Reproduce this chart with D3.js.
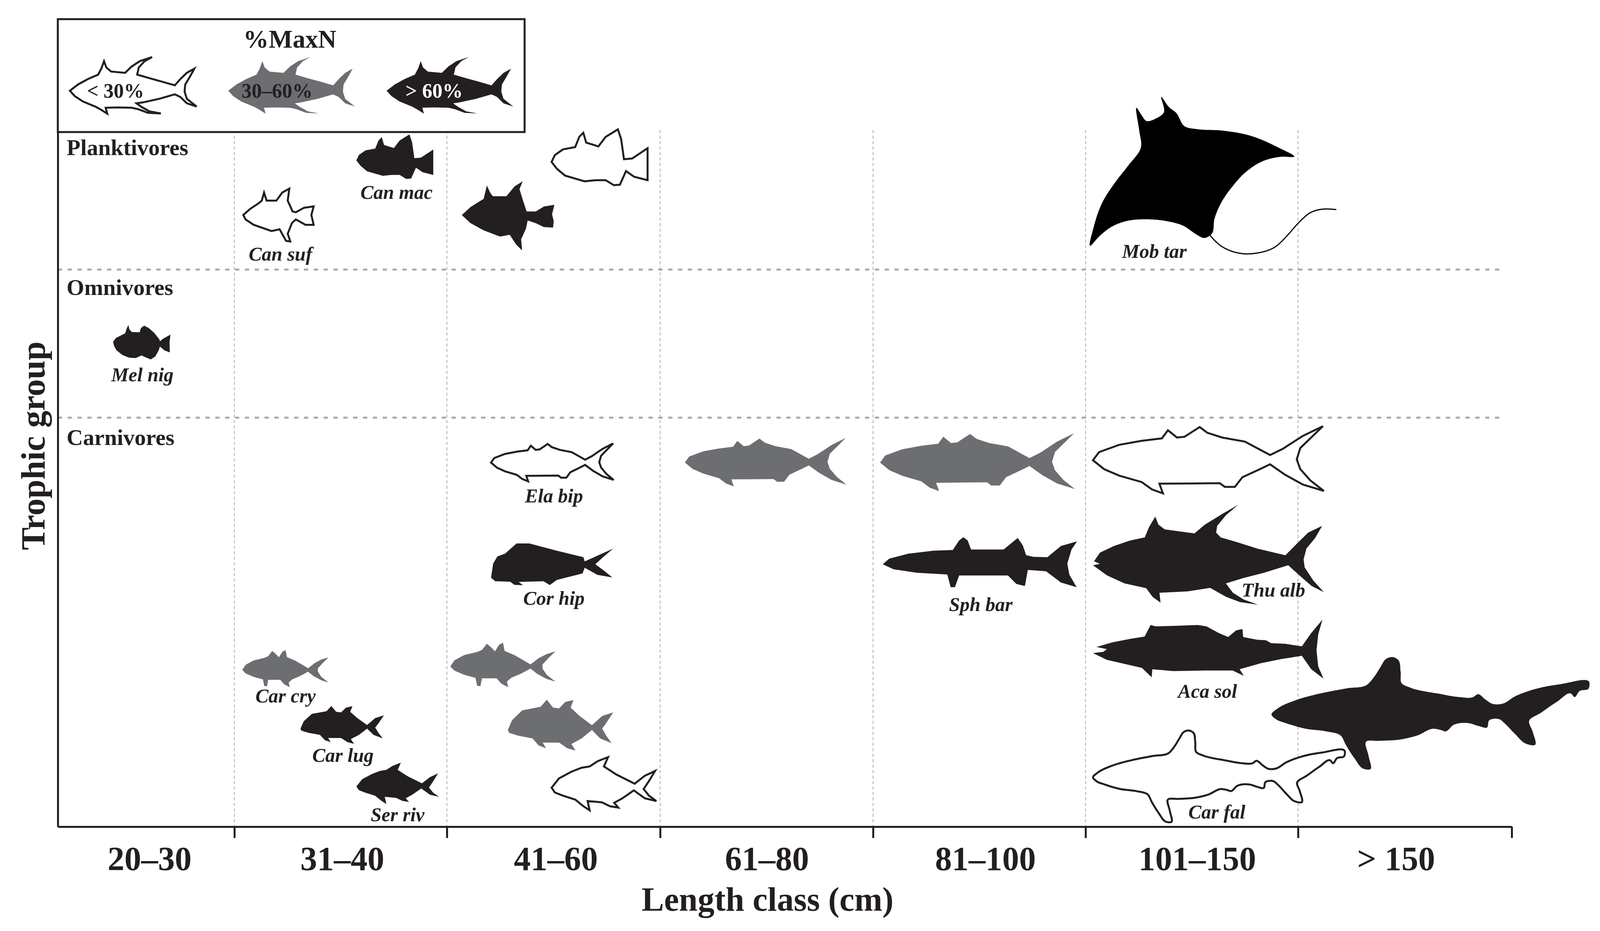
<!DOCTYPE html>
<html lang="en">

<head>
    <meta charset="UTF-8">
    <title>Trophic group by length class</title>
    <style>
        body { margin: 0; background: #fff; }
        text { font-family: "Liberation Serif", serif; fill: #231f20; }
    </style>
</head>

<body>
    <div id="my_dataviz"></div>

    <script src="https://d3js.org/d3.v7.min.js"></script>
    <script>

        // length classes along the x axis
        const lengthClasses = ["20–30", "31–40", "41–60", "61–80", "81–100", "101–150", "> 150"];
        const classEdges = [0, 1, 2, 3, 4, 5, 6, 7];
        const classLabelAt = [0.519, 1.507, 2.510, 3.501, 4.528, 5.525, 6.458];

        // trophic groups, read on a 0-100 position scale
        const trophicGroups = ["Planktivores", "Omnivores", "Carnivores"];
        const trophicLabelAt = [96.68, 76.55, 54.95];
        const trophicDividers = [80.2, 58.89];

        // %MaxN classes
        const maxNLabels = ["< 30%", "30–60%", "> 60%"];

        // one entry per fish: extent along length class and along the trophic position
        const fishNames = ["Can suf", "Can mac", "", "", "Mob tar", "Mel nig", "Ela bip", "", "", "", "Cor hip", "Sph bar", "Thu alb", "Aca sol", "", "Car fal", "Car cry", "Car lug", "Ser riv", "", "", ""];
        const fishShapes = ["triggerSmall", "triggerRound", "triggerSharp", "triggerRound", "manta", "melNig", "amberjack", "amberjack", "amberjack", "amberjack", "dorado", "barracuda", "albacore", "wahoo", "shark", "shark", "jack", "jackDeep", "pompano", "jack", "jackDeep", "pompano"];
        const fishMaxN = [0, 2, 2, 0, 2, 2, 0, 1, 1, 0, 2, 2, 2, 2, 2, 0, 1, 2, 2, 1, 1, 0];
        const lengthFrom = [1.042, 1.574, 2.070, 2.491, 5.022, 0.313, 2.207, 3.116, 4.033, 5.035, 2.207, 4.046, 5.035, 5.035, 5.875, 5.035, 1.037, 1.311, 1.574, 2.016, 2.286, 2.491];
        const lengthTo = [1.373, 1.936, 2.504, 2.941, 6.179, 0.638, 2.782, 3.875, 4.950, 6.121, 2.780, 4.960, 6.121, 6.119, 7.364, 6.219, 1.443, 1.704, 1.963, 2.509, 2.780, 2.982];
        const trophicLow = [84.25, 93.25, 82.96, 92.35, 82.56, 67.27, 49.72, 48.99, 48.31, 47.98, 34.76, 34.48, 31.95, 21.32, 8.27, 0.67, 20.08, 11.92, 3.26, 20.08, 10.97, 2.36];
        const trophicHigh = [91.85, 99.66, 92.91, 100.39, 105.06, 72.22, 55.17, 55.96, 56.64, 57.65, 40.78, 41.68, 46.34, 29.81, 24.41, 13.84, 25.42, 17.38, 9.22, 26.49, 18.28, 10.01];
        const nameAtLength = [1.217, 1.763, 0, 0, 5.324, 0.479, 2.502, 0, 0, 0, 2.502, 4.507, 5.884, 5.574, 0, 5.618, 1.241, 1.511, 1.768, 0, 0, 0];
        const nameAtTrophic = [81.50, 90.38, 0, 0, 81.89, 64.12, 46.68, 0, 0, 0, 31.95, 31.05, 33.13, 18.56, 0, 1.18, 17.89, 9.34, 0.79, 0, 0, 0];

        // silhouette outlines, each in its own drawing units (stretched to the fish extent below)
        const silhouettes = {
            tunaKey: [[585,475],[610,440],[640,410],[672,385],[682,350],[690,310],[697,345],[712,368],[755,375],[775,340],[800,310],[838,287],[815,310],[797,345],[792,385],[830,405],[870,425],[908,445],[925,410],[945,375],[968,352],[955,395],[940,440],[938,480],[945,520],[975,563],[945,545],[925,510],[908,495],[860,520],[810,540],[790,545],[805,565],[830,590],[865,602],[825,598],[795,578],[775,570],[730,568],[695,570],[700,603],[680,580],[665,565],[625,535],[600,505]],
            albacore: [[113,197],[130,165],[170,140],[215,120],[258,108],[270,70],[288,30],[297,60],[315,78],[400,93],[430,60],[480,20],[525,-14],[490,25],[465,65],[462,90],[475,108],[520,125],[580,150],[660,175],[690,135],[725,90],[765,65],[745,110],[720,150],[712,190],[715,220],[740,270],[770,313],[735,290],[700,250],[668,212],[600,240],[540,260],[490,280],[510,315],[540,340],[582,360],[530,350],[490,330],[445,297],[380,310],[300,315],[303,352],[280,330],[262,298],[200,280],[150,250],[110,212],[130,207]],
            wahoo: [[120,517],[165,500],[215,487],[258,478],[275,435],[290,440],[350,438],[410,435],[435,440],[470,465],[497,480],[520,455],[538,450],[540,480],[580,490],[605,492],[620,503],[660,505],[708,515],[735,465],[767,415],[755,470],[750,530],[755,590],[770,635],[735,600],[708,550],[650,562],[590,578],[530,600],[542,625],[510,605],[430,605],[340,607],[280,600],[278,630],[250,595],[200,580],[150,565],[110,540],[140,535],[150,525]],
            shark: [[622,768],[640,745],[690,715],[760,690],[840,670],[895,658],[915,630],[935,590],[950,562],[970,555],[985,565],[992,610],[995,652],[1020,668],[1100,690],[1160,703],[1200,703],[1213,692],[1235,712],[1255,728],[1285,727],[1320,700],[1380,672],[1450,655],[1533,650],[1530,672],[1505,680],[1490,703],[1480,690],[1440,720],[1395,760],[1360,792],[1370,830],[1377,880],[1350,875],[1320,840],[1290,800],[1275,785],[1245,790],[1240,815],[1215,810],[1190,800],[1145,805],[1120,830],[1108,825],[1085,820],[1040,845],[990,860],[930,865],[893,868],[900,920],[905,970],[885,968],[860,930],[835,880],[820,845],[780,830],[720,820],[665,800],[635,785]],
            manta: [[105,608],[115,540],[140,450],[175,380],[215,315],[250,250],[245,190],[238,108],[252,135],[265,155],[295,145],[315,125],[308,68],[330,105],[350,125],[375,175],[410,185],[480,190],[560,208],[640,250],[688,285],[650,285],[600,300],[550,340],[510,395],[480,450],[460,510],[452,565],[430,580],[412,570],[370,535],[320,518],[270,512],[210,518],[165,540],[130,575]],
            jack: [[787,295],[800,265],[830,240],[870,225],[885,215],[900,185],[915,205],[925,222],[938,190],[950,180],[955,220],[985,240],[1010,262],[1035,285],[1060,255],[1085,235],[1112,222],[1090,255],[1072,285],[1072,305],[1085,335],[1112,368],[1085,355],[1055,330],[1035,305],[1005,330],[975,350],[962,368],[966,395],[945,378],[930,352],[885,352],[880,390],[870,388],[865,350],[830,335],[800,315]],
            jackDeep: [[325,595],[335,560],[360,525],[405,512],[420,487],[435,515],[450,518],[465,495],[485,488],[478,515],[500,545],[530,578],[555,545],[582,532],[565,570],[555,590],[565,615],[578,642],[550,625],[530,595],[505,625],[480,645],[490,668],[470,660],[450,640],[410,640],[418,660],[400,650],[385,625],[350,615],[328,605]],
            pompano: [[497,875],[515,840],[545,815],[570,800],[590,795],[610,775],[635,760],[625,795],[655,825],[700,860],[725,830],[750,812],[735,850],[722,880],[735,905],[753,925],[725,915],[698,885],[670,915],[650,932],[660,950],[640,945],[620,930],[585,925],[590,960],[575,945],[555,920],[525,905],[505,893]],
            amberjack: [[1063,375],[1075,325],[1115,280],[1160,255],[1200,240],[1212,190],[1230,235],[1245,230],[1275,170],[1290,205],[1320,235],[1365,260],[1395,310],[1415,343],[1440,305],[1480,225],[1520,165],[1495,240],[1475,300],[1468,370],[1475,430],[1495,500],[1522,565],[1480,525],[1445,465],[1415,400],[1395,430],[1360,480],[1345,540],[1325,540],[1315,517],[1195,520],[1202,580],[1180,555],[1160,510],[1115,470],[1085,430]],
            dorado: [[145,1200],[150,1100],[160,1050],[178,1030],[205,958],[235,958],[300,1010],[362,1055],[365,1085],[432,995],[410,1050],[390,1105],[410,1150],[430,1198],[395,1180],[365,1130],[360,1170],[300,1215],[283,1252],[268,1225],[210,1230],[220,1253],[200,1250],[190,1228],[155,1225]],
            barracuda: [[1070,1105],[1085,1065],[1130,1030],[1190,1008],[1235,1003],[1250,935],[1260,912],[1270,935],[1278,1000],[1355,1000],[1375,950],[1388,918],[1400,970],[1408,1040],[1425,1052],[1458,1055],[1490,975],[1528,942],[1515,1000],[1505,1100],[1510,1180],[1527,1268],[1490,1235],[1455,1155],[1412,1145],[1405,1260],[1385,1245],[1365,1185],[1250,1185],[1240,1268],[1230,1268],[1222,1178],[1150,1165],[1095,1140]],
            triggerRound: [[497,240],[505,210],[525,185],[555,175],[565,130],[575,112],[582,155],[612,172],[630,130],[660,97],[668,140],[675,228],[695,225],[733,180],[733,320],[700,305],[680,280],[665,340],[650,342],[630,320],[605,320],[578,325],[530,300],[510,270]],
            triggerSharp: [[823,545],[850,500],[890,455],[900,380],[910,420],[918,440],[960,440],[985,385],[1010,357],[1000,400],[1010,460],[1022,525],[1050,525],[1075,497],[1107,488],[1100,540],[1105,580],[1103,615],[1075,612],[1050,590],[1025,575],[1020,620],[1005,680],[1008,742],[990,710],[970,655],[940,665],[890,630],[850,590]],
            triggerSmall: [[148,545],[170,510],[195,480],[205,465],[212,420],[220,465],[250,465],[268,420],[290,398],[285,465],[300,525],[310,530],[335,505],[365,497],[358,545],[365,600],[340,600],[310,570],[298,590],[285,650],[293,693],[280,690],[260,625],[235,635],[180,600],[155,570]],
            melNig: [[448,525],[470,495],[510,475],[540,460],[553,420],[565,397],[572,430],[590,450],[650,452],[660,420],[685,402],[720,420],[760,455],[800,505],[805,520],[830,500],[885,470],[878,530],[880,605],[840,590],[805,560],[795,590],[770,635],[735,658],[690,640],[665,628],[620,648],[570,645],[520,625],[475,590],[455,555]]
        };
        const mantaTail = [[447,570],[480,610],[530,635],[580,635],[630,615],[665,575],[700,525],[735,487],[770,475],[808,477]];
        // only the smooth bodied ones get a curve, the rest keep their sharp fins
        const smoothShapes = ["manta", "shark"];

        const width = 4106, height = 2383;
        const ink = "#231f20";

        var svg = d3.select("#my_dataviz")
          .append("svg")
            .attr("width", width)
            .attr("height", height)
            .style("display", "block");

        // first class is narrower than the others, so the x scale is piecewise
        var x = d3.scaleLinear()
          .domain(classEdges)
          .range([148, 600, 1144, 1690, 2235, 2779, 3323, 3870]);

        var y = d3.scaleLinear()
          .domain([0, 100])
          .range([2116, 338]);

        var maxNFill = d3.scaleOrdinal().domain([0, 1, 2]).range(["#fff", "#6d6e71", ink]);

        // grid
        svg.append("g").selectAll("line")
          .data(classEdges.slice(1, 7))
          .enter().append("line")
            .attr("x1", d => x(d)).attr("x2", d => x(d))
            .attr("y1", 333).attr("y2", y(0))
            .attr("stroke", "#bdbdbd")
            .attr("stroke-width", 2.5)
            .attr("stroke-dasharray", "8 6");

        svg.append("g").selectAll("line")
          .data(trophicDividers)
          .enter().append("line")
            .attr("x1", x(0)).attr("x2", x(6.954))
            .attr("y1", d => y(d)).attr("y2", d => y(d))
            .attr("stroke", "#a9a9a9")
            .attr("stroke-width", 5)
            .attr("stroke-dasharray", "11 14.2");

        // draw one silhouette into a pixel box
        function drawFish(parent, shapeName, box, maxN) {
            var outline = silhouettes[shapeName];
            var all = shapeName === "manta" ? outline.concat(mantaTail) : outline;
            var sx = d3.scaleLinear().domain(d3.extent(all, d => d[0])).range([box.x0, box.x1]);
            var sy = d3.scaleLinear().domain(d3.extent(all, d => d[1])).range([box.y0, box.y1]);
            var line = d3.line().x(d => sx(d[0])).y(d => sy(d[1]));
            var curve = smoothShapes.includes(shapeName) ? d3.curveCatmullRomClosed.alpha(0.9) : d3.curveLinearClosed;

            parent.append("path")
              .attr("d", line.curve(curve)(outline))
              .attr("fill", shapeName === "manta" ? "#000" : maxNFill(maxN))
              .attr("stroke", maxN === 0 ? ink : "none")
              .attr("stroke-width", 5)
              .attr("stroke-linejoin", "miter");

            if (shapeName === "manta") {
                parent.append("path")
                  .attr("d", line.curve(d3.curveCatmullRom)(mantaTail))
                  .attr("fill", "none")
                  .attr("stroke", "#000")
                  .attr("stroke-width", 3);
            }
        }

        var fishLayer = svg.append("g");
        fishNames.forEach(function (name, i) {
            drawFish(fishLayer, fishShapes[i], {
                x0: x(lengthFrom[i]), x1: x(lengthTo[i]),
                y0: y(trophicHigh[i]), y1: y(trophicLow[i])
            }, fishMaxN[i]);
        });

        // species names
        svg.append("g").selectAll("text")
          .data(fishNames.map((name, i) => ({ name: name, at: nameAtLength[i], tr: nameAtTrophic[i] })).filter(d => d.name))
          .enter().append("text")
            .attr("x", d => x(d.at))
            .attr("y", d => y(d.tr))
            .attr("text-anchor", "middle")
            .attr("font-size", 50)
            .attr("font-weight", "bold")
            .attr("font-style", "italic")
            .text(d => d.name);

        // trophic group names
        svg.append("g").selectAll("text")
          .data(trophicGroups)
          .enter().append("text")
            .attr("x", x(0.05))
            .attr("y", (d, i) => y(trophicLabelAt[i]))
            .attr("font-size", 58)
            .attr("font-weight", "bold")
            .text(d => d);

        // axes
        var tickAxis = svg.append("g")
          .attr("transform", "translate(0," + y(0) + ")")
          .call(d3.axisBottom(x).tickValues(classEdges.slice(1)).tickSize(29).tickSizeOuter(0).tickFormat(""));
        tickAxis.selectAll("path").attr("stroke", ink).attr("stroke-width", 5);
        tickAxis.selectAll("line").attr("stroke", ink).attr("stroke-width", 5);

        var labelAxis = svg.append("g")
          .attr("transform", "translate(0," + y(0) + ")")
          .call(d3.axisBottom(x).tickValues(classLabelAt).tickSize(0).tickSizeOuter(0).tickFormat((d, i) => lengthClasses[i]));
        labelAxis.select(".domain").remove();
        labelAxis.selectAll("text")
          .attr("y", 111).attr("dy", 0)
          .attr("font-family", "Liberation Serif")
          .attr("font-size", 86)
          .attr("font-weight", "bold")
          .attr("fill", ink);

        var leftAxis = svg.append("g")
          .attr("transform", "translate(" + x(0) + ",0)")
          .call(d3.axisLeft(y).tickValues([]).tickSizeOuter(0));
        leftAxis.select(".domain").attr("stroke", ink).attr("stroke-width", 5);

        svg.append("text")
          .attr("x", 1965).attr("y", 2331)
          .attr("text-anchor", "middle")
          .attr("font-size", 86)
          .attr("font-weight", "bold")
          .text("Length class (cm)");

        svg.append("text")
          .attr("transform", "translate(114,1141) rotate(-90)")
          .attr("text-anchor", "middle")
          .attr("font-size", 87)
          .attr("font-weight", "bold")
          .text("Trophic group");

        // legend box
        var legend = svg.append("g");
        legend.append("rect")
          .attr("x", 148).attr("y", 49)
          .attr("width", 1195).attr("height", 289)
          .attr("fill", "#fff")
          .attr("stroke", ink)
          .attr("stroke-width", 5);

        legend.append("text")
          .attr("x", 742).attr("y", 122)
          .attr("text-anchor", "middle")
          .attr("font-size", 65)
          .attr("font-weight", "bold")
          .text("%MaxN");

        var keyBand = d3.scaleBand()
          .domain(maxNLabels)
          .range([179, 1314])
          .paddingInner(0.2);
        var keyTextAt = [0.36, 0.385, 0.375];

        maxNLabels.forEach(function (label, i) {
            drawFish(legend, "tunaKey", {
                x0: keyBand(label), x1: keyBand(label) + keyBand.bandwidth(),
                y0: 146, y1: 291
            }, i);
            legend.append("text")
              .attr("x", keyBand(label) + keyBand.bandwidth() * keyTextAt[i])
              .attr("y", 250)
              .attr("text-anchor", "middle")
              .attr("font-size", 52)
              .attr("font-weight", "bold")
              .style("fill", i === 2 ? "#fff" : ink)
              .text(label);
        });

    </script>
</body>

</html>
